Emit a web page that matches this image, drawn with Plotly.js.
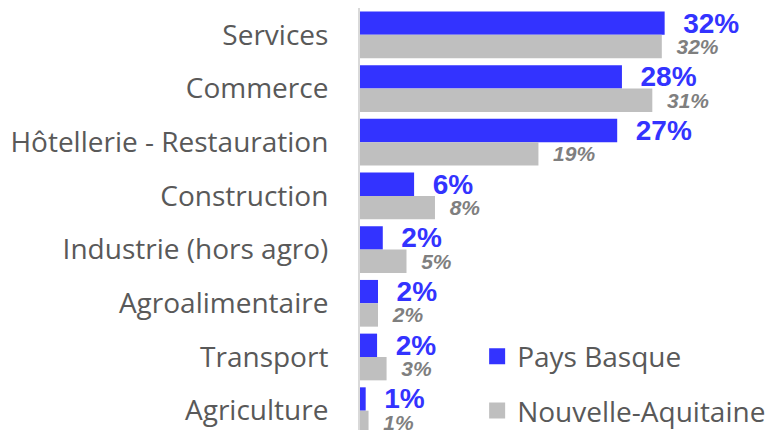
<!DOCTYPE html>
<html>
<head>
<meta charset="utf-8">
<script src="https://cdn.plot.ly/plotly-3.0.1.min.js"></script>
<style>html,body{margin:0;padding:0;background:#fff;}#chart{width:770px;height:430px;}</style>
</head>
<body>
<div id="chart"></div>
<script>
var categories = ["Services", "Commerce", "Hôtellerie - Restauration", "Construction",
  "Industrie (hors agro)", "Agroalimentaire", "Transport", "Agriculture"];
var paysBasque = [32.1, 27.6, 27.1, 5.7, 2.4, 1.9, 1.8, 0.6];
var nouvelleAquitaine = [31.8, 30.8, 18.8, 7.9, 4.9, 1.9, 2.8, 0.9];
var seriesNames = ["Pays Basque", "Nouvelle-Aquitaine"];

var BLUE = "#3333FF", GRAY = "#BFBFBF", GRAYTXT = "#7F7F7F", AXTXT = "#595959";
var NB = "\u00a0";

var traces = [
  {
    type: "bar", orientation: "h", name: seriesNames[0], showlegend: false,
    y: categories, x: paysBasque, marker: {color: BLUE},
    texttemplate: NB + NB + "%{x:.0f}%", textposition: "outside", constraintext: "none",
    cliponaxis: false,
    outsidetextfont: {family: "Liberation Sans, Arial, sans-serif", size: 28, color: BLUE, weight: "bold"},
    hoverinfo: "skip"
  },
  {
    type: "bar", orientation: "h", name: seriesNames[1], showlegend: false,
    y: categories, x: nouvelleAquitaine, marker: {color: GRAY},
    texttemplate: NB + NB + "%{x:.0f}%", textposition: "outside", constraintext: "none",
    cliponaxis: false,
    outsidetextfont: {family: "Liberation Sans, Arial, sans-serif", size: 21, color: GRAYTXT, weight: "bold", style: "italic"},
    hoverinfo: "skip"
  },
  {
    type: "scatter", mode: "markers", name: seriesNames[0], legendgroup: "a",
    x: [null], y: [null], marker: {symbol: "square", size: 16, color: BLUE}
  },
  {
    type: "scatter", mode: "markers", name: seriesNames[1], legendgroup: "b",
    x: [null], y: [null], marker: {symbol: "square", size: 16, color: GRAY}
  }
];

var layout = {
  width: 770, height: 430,
  margin: {l: 360, r: 0, t: 8, b: 0, pad: 0, autoexpand: false},
  paper_bgcolor: "#fff", plot_bgcolor: "#fff",
  barmode: "group", bargap: 0.13, bargroupgap: 0,
  showlegend: true,
  legend: {
    x: 0.2857, xanchor: "left", y: -0.013, yanchor: "bottom",
    font: {family: "Open Sans, sans-serif", size: 28, color: AXTXT},
    itemsizing: "trace", traceorder: "grouped", tracegroupgap: 15,
    bgcolor: "rgba(0,0,0,0)", borderwidth: 0
  },
  xaxis: {
    range: [0, 43.2], visible: false, showgrid: false, zeroline: false, fixedrange: true
  },
  yaxis: {
    type: "category", range: [7.36, -0.5],
    showline: true, linecolor: "#D9D9D9", linewidth: 2,
    showgrid: false, zeroline: false, ticks: "",
    ticklabelstandoff: 24,
    tickfont: {family: "Open Sans, sans-serif", size: 28, color: AXTXT},
    fixedrange: true
  }
};

Plotly.newPlot("chart", traces, layout, {staticPlot: true, displayModeBar: false});
</script>
</body>
</html>
